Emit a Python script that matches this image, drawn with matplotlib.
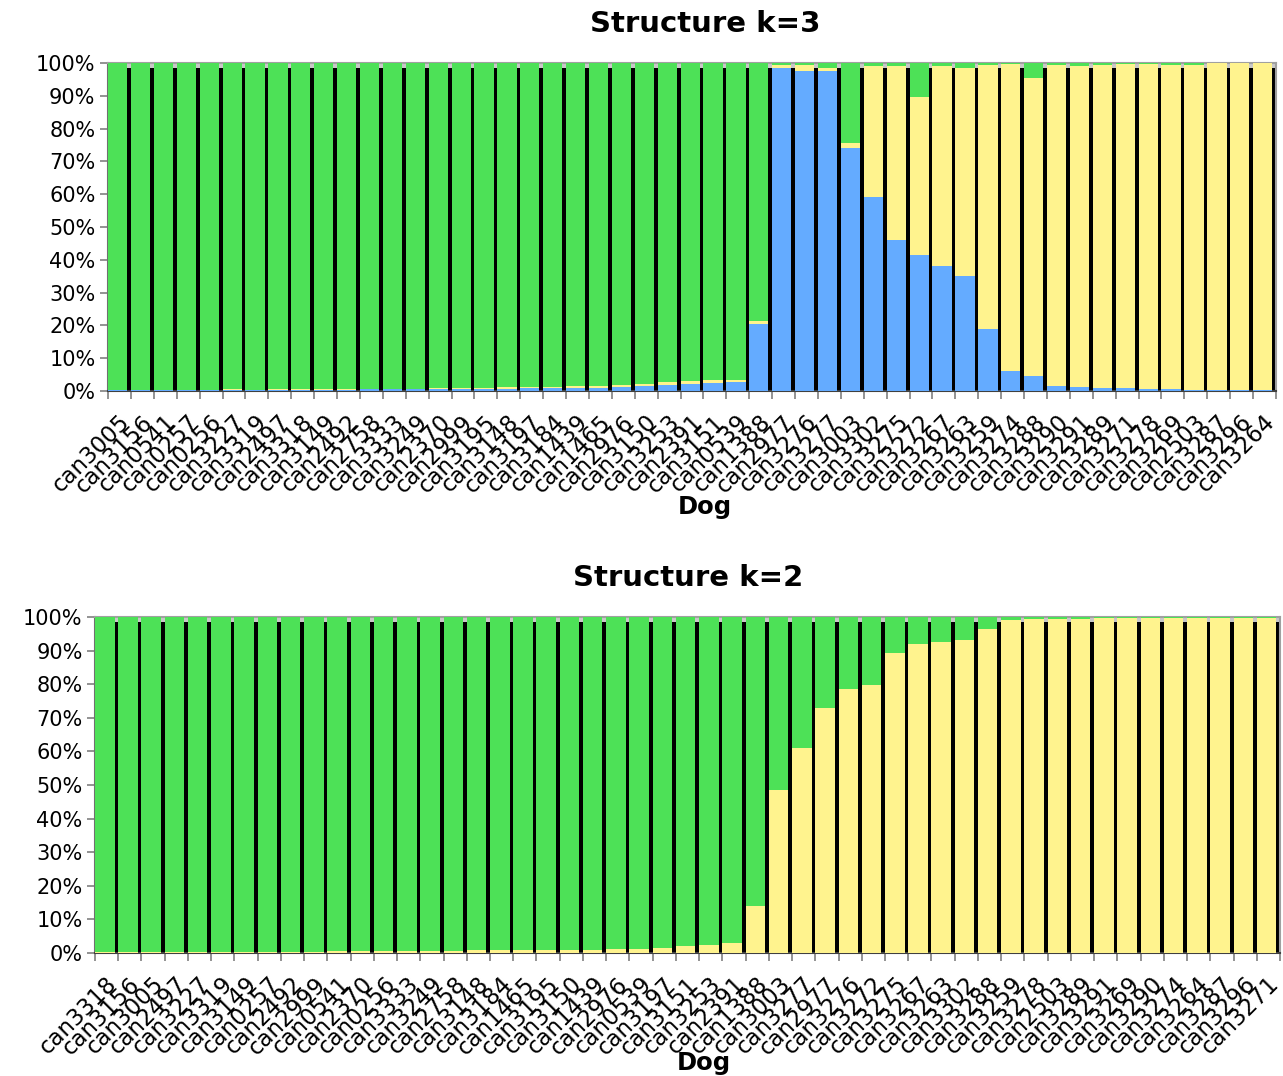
import matplotlib
matplotlib.use("Agg")
import matplotlib.pyplot as plt
import numpy as np

# ---------------- data ----------------
dogs_k3 = ["can3005", "can3156", "can0541", "can0257", "can0256", "can3227", "can3319", "can2497",
           "can3318", "can3149", "can2492", "can2758", "can3333", "can3249", "can2370", "can2999",
           "can3195", "can3148", "can3197", "can3184", "can1439", "can1465", "can2976", "can3150",
           "can3253", "can2391", "can3151", "can0539", "can1388", "can2977", "can3276", "can3277",
           "can3003", "can3302", "can3275", "can3272", "can3267", "can3263", "can3259", "can3274",
           "can3288", "can3290", "can3291", "can3289", "can3271", "can3278", "can3269", "can2503",
           "can3287", "can3296", "can3264"]
k3_blue = [0.2, 0.2, 0.2, 0.2, 0.3, 0.3, 0.3, 0.3, 0.3, 0.3, 0.4, 0.5, 0.5, 0.5, 0.5, 0.6,
           0.6, 0.7, 0.8, 0.8, 0.9, 1.0, 1.3, 1.5, 1.8, 2.2, 2.4, 2.6, 20.5, 98.5, 97.5, 97.5,
           74.0, 59.0, 46.0, 41.5, 38.0, 35.0, 19.0, 6.0, 4.5, 1.5, 1.2, 1.0, 1.0, 0.7, 0.5, 0.3,
           0.2, 0.2, 0.2]
k3_yellow = [0.1, 0.1, 0.1, 0.1, 0.1, 0.2, 0.1, 0.2, 0.2, 0.2, 0.2, 0.2, 0.2, 0.2, 0.3, 0.3,
             0.4, 0.4, 0.4, 0.5, 0.5, 0.5, 0.6, 0.7, 0.9, 0.8, 0.9, 0.8, 0.8, 1.0, 2.0, 1.0,
             1.5, 40.0, 53.0, 48.0, 61.0, 63.5, 80.5, 93.7, 91.0, 98.0, 98.0, 98.3, 98.8, 99.1, 99.0, 99.2,
             99.7, 99.7, 99.7]

dogs_k2 = ["can3318", "can3156", "can3005", "can2497", "can3227", "can3319", "can3149", "can0257",
           "can2492", "can2999", "can0541", "can2370", "can0256", "can3333", "can3249", "can2758",
           "can3148", "can3184", "can1465", "can3195", "can3150", "can1439", "can2976", "can0539",
           "can3197", "can3151", "can3253", "can2391", "can1388", "can3003", "can3277", "can2977",
           "can3276", "can3272", "can3275", "can3267", "can3263", "can3302", "can3288", "can3259",
           "can3278", "can2503", "can3289", "can3291", "can3269", "can3290", "can3274", "can3264",
           "can3287", "can3296", "can3271"]
k2_yellow = [0.2, 0.2, 0.2, 0.2, 0.2, 0.2, 0.3, 0.3, 0.3, 0.4, 0.5, 0.5, 0.5, 0.5, 0.6, 0.7,
             0.8, 0.8, 0.9, 0.9, 1.0, 1.0, 1.2, 1.3, 1.5, 2.0, 2.3, 3.0, 14.0, 48.5, 61.0, 73.0,
             78.5, 79.7, 89.3, 92.0, 92.6, 93.1, 96.3, 99.0, 99.3, 99.4, 99.5, 99.6, 99.6, 99.7, 99.7, 99.7,
             99.8, 99.8, 99.8]

GREEN = "#4de157"
BLUE = "#64abff"
YELLOW = "#fff38e"
BARW = 0.84

fig = plt.figure(figsize=(12.83, 10.76), dpi=100)


def style_axes(ax, labels, title, title_x, xlab_x, xlab_y):
    n = len(labels)
    ax.set_xlim(0, n)
    ax.set_ylim(0, 100)
    ax.set_yticks(np.arange(0, 101, 10))
    ax.set_yticklabels([f"{v}%" for v in range(0, 101, 10)], fontsize=15)
    ax.set_xticks(np.arange(n) + 0.45)
    ax.set_xticklabels(labels, rotation=45, ha="right", rotation_mode="anchor", fontsize=16.5)
    ax.set_xticks(np.arange(n + 1), minor=True)
    ax.tick_params(axis="x", which="major", length=0, pad=14)
    ax.tick_params(axis="x", which="minor", length=6, color="#808080", width=1.2)
    ax.tick_params(axis="y", length=6, color="#808080", width=1.2, pad=3)
    for s in ["top", "right"]:
        ax.spines[s].set_color("#a0a0a0")
        ax.spines[s].set_linewidth(1.5)
    ax.spines["left"].set_color("#707070")
    ax.spines["left"].set_linewidth(1.5)
    ax.spines["bottom"].set_color("#404040")
    ax.spines["bottom"].set_linewidth(1.5)
    ax.set_title(title, fontsize=21, fontweight="bold", pad=22, x=title_x)
    ax.set_xlabel("Dog", fontsize=17.5, fontweight="bold", va="center")
    ax.xaxis.set_label_coords(xlab_x, xlab_y)


def shadows(ax, n):
    x = np.arange(n)
    ax.bar(x + BARW, [100] * n, width=1 - BARW, bottom=0, align="edge", color="#c8c8c8", zorder=1)
    ax.bar(x + BARW, [98.6] * n, width=1 - BARW, bottom=0, align="edge", color="black", zorder=2)


# ---- top: k=3 ----
ax1 = fig.add_axes([108 / 1283, 1 - 391 / 1076, 1168 / 1283, 328 / 1076])
n1 = len(dogs_k3)
x1 = np.arange(n1)
b = np.array(k3_blue)
y = np.array(k3_yellow)
g = 100 - b - y
shadows(ax1, n1)
ax1.bar(x1, b, width=BARW, align="edge", color=BLUE, zorder=3)
ax1.bar(x1, y, width=BARW, bottom=b, align="edge", color=YELLOW, zorder=3)
ax1.bar(x1, g, width=BARW, bottom=b + y, align="edge", color=GREEN, zorder=3)
style_axes(ax1, dogs_k3, "Structure k=3", (705 - 108) / 1168, (705 - 108) / 1168, -116 / 328)

# ---- bottom: k=2 ----
ax2 = fig.add_axes([95 / 1283, 1 - 953 / 1076, 1185 / 1283, 336 / 1076])
n2 = len(dogs_k2)
x2 = np.arange(n2)
y2 = np.array(k2_yellow)
g2 = 100 - y2
shadows(ax2, n2)
ax2.bar(x2, y2, width=BARW, align="edge", color=YELLOW, zorder=3)
ax2.bar(x2, g2, width=BARW, bottom=y2, align="edge", color=GREEN, zorder=3)
style_axes(ax2, dogs_k2, "Structure k=2", (688 - 95) / 1185, (704 - 95) / 1185, -110 / 336)

fig.savefig("out.png", dpi=100)
